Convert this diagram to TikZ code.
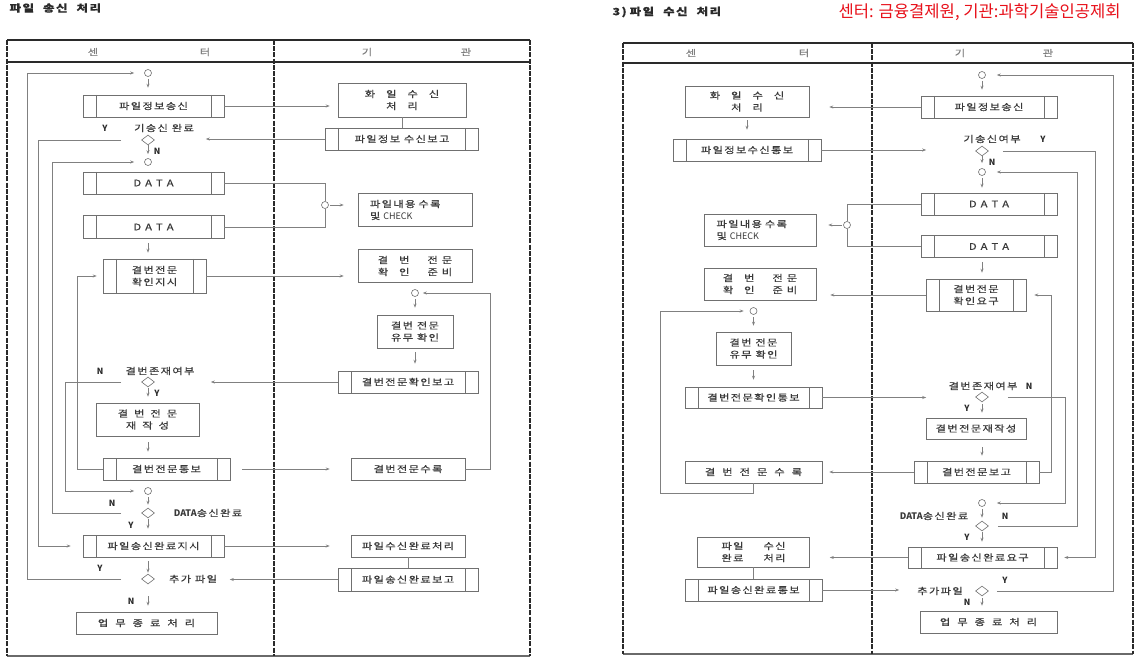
\documentclass[tikz,border=0pt]{standalone}
\usepackage{fontspec}
\setmainfont{Noto Sans CJK KR}
\newfontfamily\boxfont[FakeStretch=1.25,LetterSpace=15,FakeBold=0.5]{Noto Sans CJK KR}
\usetikzlibrary{shapes.geometric,arrows.meta}
\definecolor{ink}{HTML}{3A3A3A}
\definecolor{edge}{HTML}{707070}
\definecolor{wirec}{HTML}{808080}
\definecolor{rulec}{HTML}{2A2A2A}
\definecolor{alert}{HTML}{E8101A}
\newcommand{\wsp}[1]{\hspace{#1pt}}

\begin{document}
\begin{tikzpicture}[
            x=1pt, y=-1pt,
            every node/.style={font=\boxfont\fontsize{9}{12}\selectfont, text=ink},
            dims/.style 2 args={minimum width=#1pt, minimum height=#2pt},
            box/.style={draw=edge, line width=0.6pt, align=center, inner sep=0pt},
            pbox/.style={box, path picture={
                \draw[edge, line width=0.6pt]
                    ([xshift=13pt]path picture bounding box.north west) -- ([xshift=13pt]path picture bounding box.south west)
                    ([xshift=-13pt]path picture bounding box.north east) -- ([xshift=-13pt]path picture bounding box.south east);}},
            joint/.style={circle, draw=edge, line width=0.6pt, minimum size=7pt, inner sep=0pt},
            decide/.style={diamond, draw=edge, line width=0.6pt, minimum width=13pt, minimum height=10pt, inner sep=0pt},
            tag/.style={font=\bfseries\fontsize{8.5}{10}\selectfont, text=rulec, inner sep=1pt},
            note/.style={inner sep=1pt},
            head/.style={font=\boxfont\fontsize{9}{11}\selectfont, text=gray},
            wire/.style={draw=wirec, line width=0.7pt},
            flow/.style={wire, -{Stealth[length=4pt,width=3pt]}},
            sideline/.style={draw=rulec, line width=1.3pt, dash pattern=on 5pt off 1.2pt}
            ]
            \fill[white] (0,0) rectangle (1138,663);
            \useasboundingbox (0,0) rectangle (1138,663);

            \draw[rulec, line width=1.6pt] (7,40) -- (530,40);
            \draw[rulec, line width=1.2pt] (7,62) -- (530,62);
            \draw[rulec!70, line width=1.2pt] (7,656) -- (530,656);
            \foreach \x in {7,274,530}
                \draw[sideline] (\x,40) -- (\x,656);
            \draw[rulec, line width=1.6pt] (623,43) -- (1133,43);
            \draw[rulec, line width=1.2pt] (623,63) -- (1133,63);
            \draw[rulec!70, line width=1.2pt] (623,654) -- (1133,654);
            \foreach \x in {623,872,1133}
                \draw[sideline] (\x,43) -- (\x,654);

            \node[anchor=west, font=\boxfont\bfseries\fontsize{10}{12}\selectfont, text=rulec] (sTitle) at (6,8) {파일\wsp{9}송신\wsp{9}처리};
            \node[anchor=west, font=\boxfont\bfseries\fontsize{10}{12}\selectfont, text=rulec] (rTitle) at (609,12) {3)\wsp{3}파일\wsp{9}수신\wsp{9}처리};
            \node[anchor=west, font=\fontsize{16.6}{19}\selectfont, text=alert] (rLegend) at (835,12) {센터: 금융결제원, 기관:과학기술인공제회};

            \node[head] (sHead1) at (93,52) {센};
            \node[head] (sHead2) at (205,52) {터};
            \node[head] (sHead3) at (367,52) {기};
            \node[head] (sHead4) at (466,52) {관};
            \node[head] (rHead1) at (691,53) {센};
            \node[head] (rHead2) at (804,53) {터};
            \node[head] (rHead3) at (960,53) {기};
            \node[head] (rHead4) at (1048,53) {관};

            \coordinate (sCol) at (148,0);
            \coordinate (laneA) at (27,0);
            \coordinate (laneB) at (38,0);
            \coordinate (laneC) at (52,0);
            \coordinate (laneD) at (65,0);
            \coordinate (laneE) at (77,0);
            \coordinate (laneF) at (490,0);

            \node[joint] (sStart) at (148,73) {};
            \node[pbox, dims={141}{22}] (sInfo) at (153.5,106) {파일정보송신};
            \node[box, dims={128}{34}] (sRecv) at (402,100) {화\wsp{11}일\wsp{11}수\wsp{11}신\\처\wsp{11}리};
            \node[pbox, dims={153}{22}] (sRecvRep) at (402,139) {파일정보 수신보고};
            \node[tag] (sDone1Y) at (105,128) {Y};
            \node[note] (sDone1Txt) at (164,128) {기송신 완료};
            \node[decide] (sDone1) at (148,140) {};
            \node[tag] (sDone1N) at (157,151) {N};
            \node[joint] (sData0) at (148,162) {};
            \node[pbox, dims={141}{22}] (sData1) at (153.5,183) {D\wsp{4}A\wsp{4}T\wsp{4}A};
            \node[joint] (sJoin) at (325,205) {};
            \node[box, align=left, text width=90pt, inner xsep=12pt, minimum height=33pt] (sCheck) at (415,210) {파일내용 수록\\및 {\rmfamily CHECK}};
            \node[pbox, dims={141}{23}] (sData2) at (153.5,227) {D\wsp{4}A\wsp{4}T\wsp{4}A};
            \node[pbox, dims={103}{34}] (sAsk) at (154.5,276) {결번전문\\확인지시};
            \node[box, dims={114}{33}] (sPrep) at (415,266) {결\wsp{11}번\wsp{18}전\wsp{4}문\\확\wsp{11}인\wsp{18}준\wsp{4}비};
            \node[joint] (sLoopC) at (415,293) {};
            \node[box, dims={76}{33}] (sHave) at (415,331.5) {결번 전문\\유무 확인};
            \node[pbox, dims={140}{22}] (sAnsRep) at (408,382) {결번전문확인보고};
            \node[tag] (sExistN) at (100,371) {N};
            \node[note] (sExistTxt) at (160,371) {결번존재여부};
            \node[decide] (sExist) at (148,382) {};
            \node[tag] (sExistY) at (157,393) {Y};
            \node[box, dims={103}{33}] (sRemake) at (147.5,419.5) {결\wsp{6}번\wsp{6}전\wsp{6}문\\재\wsp{6}작\wsp{6}성};
            \node[pbox, dims={127}{22}] (sNotify) at (166.5,469) {결번전문통보};
            \node[box, dims={114}{22}] (sStore) at (408,469) {결번전문수록};
            \node[joint] (sData9) at (148,491) {};
            \node[tag] (sDone2N) at (112,503) {N};
            \node[decide] (sDone2) at (148,513) {};
            \node[note] (sDone2Txt) at (208,513) {{\rmfamily\bfseries DATA}송신완료};
            \node[tag] (sDone2Y) at (131,525) {Y};
            \node[pbox, dims={141}{22}] (sEndAsk) at (153.5,546) {파일송신완료지시};
            \node[box, dims={114}{22}] (sEndProc) at (408,546) {파일수신완료처리};
            \node[pbox, dims={140}{23}] (sEndRep) at (408,579.5) {파일송신완료보고};
            \node[tag] (sMoreY) at (100,568) {Y};
            \node[decide] (sMore) at (148,579) {};
            \node[note] (sMoreTxt) at (193,579) {추가 파일};
            \node[tag] (sMoreN) at (131,601) {N};
            \node[box, dims={141}{22}] (sFinish) at (146.5,623) {업\wsp{7}무\wsp{7}종\wsp{7}료\wsp{7}처\wsp{7}리};

            \draw[flow, shorten <=20pt, shorten >=10pt] (sMore.west) -- (sMore.west -| laneA) |- (sStart.west);
            \draw[flow, shorten <=2pt, shorten >=7pt] (sStart.south) -- (sStart.south |- sInfo.north);
            \draw[flow, shorten >=8pt] (sInfo.east) -- (sInfo.east -| sRecv.west);
            \draw[wire] (sRecv.south) -- (sRecvRep.north);
            \draw[flow, shorten >=51pt] (sRecvRep.west) -- (sRecvRep.west -| sDone1.east);
            \draw[flow, shorten <=20pt, shorten >=12pt] (sDone1.west) -- (sDone1.west -| laneB) |- (sEndAsk.west);
            \draw[flow, shorten >=4pt] (sDone1.south) -- (sData0.north);
            \draw[flow, shorten <=20pt, shorten >=10pt] (sDone2.west) -- (sDone2.west -| laneC) |- (sData0.west);
            \draw[wire] (sData1.east) -| (sJoin.north);
            \draw[wire] (sData2.east) -| (sJoin.south);
            \draw[flow, shorten <=1pt, shorten >=14pt] (sJoin.east) -- (sJoin.east -| sCheck.west);
            \draw[flow, shorten <=4pt, shorten >=6pt] (sData2.south -| sCol) -- (sAsk.north -| sCol);
            \draw[flow, shorten >=6pt] (sNotify.west) -- (sNotify.west -| laneE) |- (sAsk.west);
            \draw[flow, shorten >=14pt] (sAsk.east) -- (sAsk.east -| sPrep.west);
            \draw[flow, shorten >=4pt] (sStore.east) -- (sStore.east -| laneF) |- (sLoopC.east);
            \draw[flow, shorten <=2pt, shorten >=7pt] (sLoopC.south) -- (sLoopC.south |- sHave.north);
            \draw[flow, shorten <=4pt, shorten >=7pt] (sHave.south -| sLoopC) -- (sAnsRep.north -| sLoopC);
            \draw[flow, shorten >=56pt] (sAnsRep.west) -- (sAnsRep.west -| sExist.east);
            \draw[flow, shorten <=20pt, shorten >=10pt] (sExist.west) -- (sExist.west -| laneD) |- (sData9.west);
            \draw[flow, shorten <=1pt, shorten >=6pt] (sExist.south) -- (sExist.south |- sRemake.north);
            \draw[flow, shorten <=6pt, shorten >=6pt] (sRemake.south -| sCol) -- (sNotify.north -| sCol);
            \draw[flow, shorten <=12pt, shorten >=21pt] (sNotify.east) -- (sNotify.east -| sStore.west);
            \draw[flow, shorten <=2pt, shorten >=3pt] (sData9.south) -- (sDone2.north);
            \draw[flow, shorten <=1pt, shorten >=6pt] (sDone2.south) -- (sDone2.south |- sEndAsk.north);
            \draw[flow, shorten >=21pt] (sEndAsk.east) -- (sEndAsk.east -| sEndProc.west);
            \draw[wire] (sEndProc.south) -- (sEndRep.north);
            \draw[flow, shorten >=75pt] (sEndRep.west) -- (sEndRep.west -| sMore.east);
            \draw[flow, shorten <=4pt, shorten >=1pt] (sEndAsk.south -| sCol) -- (sMore.north);
            \draw[flow, shorten <=12pt, shorten >=6pt] (sMore.south) -- (sMore.south |- sFinish.north);

            \coordinate (rCol) at (982,0);
            \coordinate (laneR2) at (1051,0);
            \coordinate (laneR3) at (1065,0);
            \coordinate (laneR4) at (1077,0);
            \coordinate (laneR5) at (1095,0);
            \coordinate (laneR6) at (1113,0);
            \coordinate (rLow) at (660,493);

            \node[joint] (rStart) at (982,75) {};
            \node[pbox, dims={136}{22}] (rInfo) at (989,107) {파일정보송신};
            \node[box, dims={124}{31}] (rRecv) at (747,101.5) {화\wsp{11}일\wsp{11}수\wsp{11}신\\처\wsp{11}리};
            \node[pbox, dims={148}{22}] (rRecvNote) at (747,150) {파일정보수신통보};
            \node[note] (rDone1Txt) at (992,139) {기송신여부};
            \node[tag] (rDone1Y) at (1043,139) {Y};
            \node[decide] (rDone1) at (982,151) {};
            \node[tag] (rDone1N) at (992,162) {N};
            \node[joint] (rData0) at (982,172) {};
            \node[pbox, dims={136}{22}] (rData1) at (989,204) {D\wsp{4}A\wsp{4}T\wsp{4}A};
            \node[joint] (rJoin) at (847,225) {};
            \node[box, align=left, text width=87pt, inner xsep=12.5pt, minimum height=32pt] (rCheck) at (760,230) {파일내용 수록\\및 {\rmfamily CHECK}};
            \node[pbox, dims={136}{22}] (rData2) at (989,246.5) {D\wsp{4}A\wsp{4}T\wsp{4}A};
            \node[pbox, dims={100}{32}] (rAsk) at (976,295) {결번전문\\확인요구};
            \node[box, dims={112}{32}] (rPrep) at (760,284) {결\wsp{11}번\wsp{18}전\wsp{4}문\\확\wsp{11}인\wsp{18}준\wsp{4}비};
            \node[joint] (rLoopC) at (753.5,311) {};
            \node[box, dims={75}{33}] (rHave) at (753.5,348.5) {결번 전문\\유무 확인};
            \node[pbox, dims={137}{21}] (rAnsNote) at (753.5,397.5) {결번전문확인통보};
            \node[note] (rExistTxt) at (983,386) {결번존재여부};
            \node[tag] (rExistN) at (1029,386) {N};
            \node[decide] (rExist) at (982,397) {};
            \node[tag] (rExistY) at (967,408) {Y};
            \node[box, dims={100}{21}] (rRemake) at (976,428.5) {결번전문재작성};
            \node[pbox, dims={125}{22}] (rReport) at (976.5,472) {결번전문보고};
            \node[box, dims={137}{22}] (rStore) at (753.5,472) {결\wsp{7}번\wsp{7}전\wsp{7}문\wsp{7}수\wsp{7}록};
            \node[joint] (rData9) at (982,503) {};
            \node[note] (rDone2Txt) at (934,516) {{\rmfamily\bfseries DATA}송신완료};
            \node[tag] (rDone2N) at (1005,516) {N};
            \node[decide] (rDone2) at (982,526) {};
            \node[tag] (rDone2Y) at (967,537) {Y};
            \node[pbox, dims={149}{21}] (rEndAsk) at (982.5,557.5) {파일송신완료요구};
            \node[box, dims={112}{30}] (rEndProc) at (753.5,552) {파일\wsp{20}수신\\완료\wsp{20}처리};
            \node[pbox, dims={137}{22}] (rEndNote) at (753.5,590) {파일송신완료통보};
            \node[tag] (rMoreY) at (1005,580) {Y};
            \node[note] (rMoreTxt) at (940,591) {추가파일};
            \node[decide] (rMore) at (982,591) {};
            \node[tag] (rMoreN) at (967,602) {N};
            \node[box, dims={137}{22}] (rFinish) at (988.5,622) {업\wsp{7}무\wsp{7}종\wsp{7}료\wsp{7}처\wsp{7}리};

            \draw[flow, shorten <=8pt, shorten >=11pt] (rMore.east) -- (rMore.east -| laneR6) |- (rStart.east);
            \draw[flow, shorten <=2pt, shorten >=6pt] (rStart.south) -- (rStart.south |- rInfo.north);
            \draw[flow, shorten >=20pt] (rInfo.west) -- (rInfo.west -| rRecv.east);
            \draw[flow, shorten <=3pt, shorten >=9pt] (rRecv.south) -- (rRecvNote.north);
            \draw[flow, shorten >=49pt] (rRecvNote.east) -- (rRecvNote.east -| rDone1.west);
            \draw[flow, shorten <=14pt, shorten >=7pt] (rDone1.east) -- (rDone1.east -| laneR5) |- (rEndAsk.east);
            \draw[flow, shorten >=5pt] (rDone1.south) -- (rData0.north);
            \draw[flow, shorten <=9pt, shorten >=11pt] (rDone2.east) -- (rDone2.east -| laneR4) |- (rData0.east);
            \draw[flow, shorten <=2pt, shorten >=5pt] (rData0.south) -- (rData0.south |- rData1.north);
            \draw[wire] (rData1.west) -| (rJoin.north);
            \draw[wire] (rData2.west) -| (rJoin.south);
            \draw[flow, shorten <=1pt, shorten >=12pt] (rJoin.west) -- (rJoin.west -| rCheck.east);
            \draw[flow, shorten <=4pt, shorten >=6pt] (rData2.south -| rCol) -- (rAsk.north -| rCol);
            \draw[flow, shorten >=8pt] (rReport.east) -- (rReport.east -| laneR2) |- (rAsk.east);
            \draw[flow, shorten >=14pt] (rAsk.west) -- (rAsk.west -| rPrep.east);
            \draw[flow, shorten >=6pt] (rStore.south) |- (rLow) |- (rLoopC.west);
            \draw[flow, shorten <=2pt, shorten >=6pt] (rLoopC.south) -- (rLoopC.south |- rHave.north);
            \draw[flow, shorten <=5pt, shorten >=7pt] (rHave.south) -- (rAnsNote.north);
            \draw[flow, shorten >=49pt] (rAnsNote.east) -- (rAnsNote.east -| rExist.west);
            \draw[flow, shorten <=19pt, shorten >=11pt] (rExist.east) -- (rExist.east -| laneR3) |- (rData9.east);
            \draw[flow, shorten <=2pt, shorten >=5pt] (rExist.south) -- (rExist.south |- rRemake.north);
            \draw[flow, shorten <=8pt, shorten >=5pt] (rRemake.south -| rCol) -- (rReport.north -| rCol);
            \draw[flow, shorten >=7pt] (rReport.west) -- (rReport.west -| rStore.east);
            \draw[flow, shorten <=2pt, shorten >=3pt] (rData9.south) -- (rDone2.north);
            \draw[flow, shorten <=1pt, shorten >=5pt] (rDone2.south) -- (rDone2.south |- rEndAsk.north);
            \draw[flow, shorten >=20pt] (rEndAsk.west) -- (rEndAsk.west -| rEndProc.east);
            \draw[wire] (rEndProc.south) -- (rEndNote.north);
            \draw[flow, shorten >=76pt] (rEndNote.east) -- (rEndNote.east -| rMore.west);
            \draw[flow, shorten <=2pt, shorten >=5pt] (rMore.south) -- (rMore.south |- rFinish.north);
        \end{tikzpicture}
\end{document}
